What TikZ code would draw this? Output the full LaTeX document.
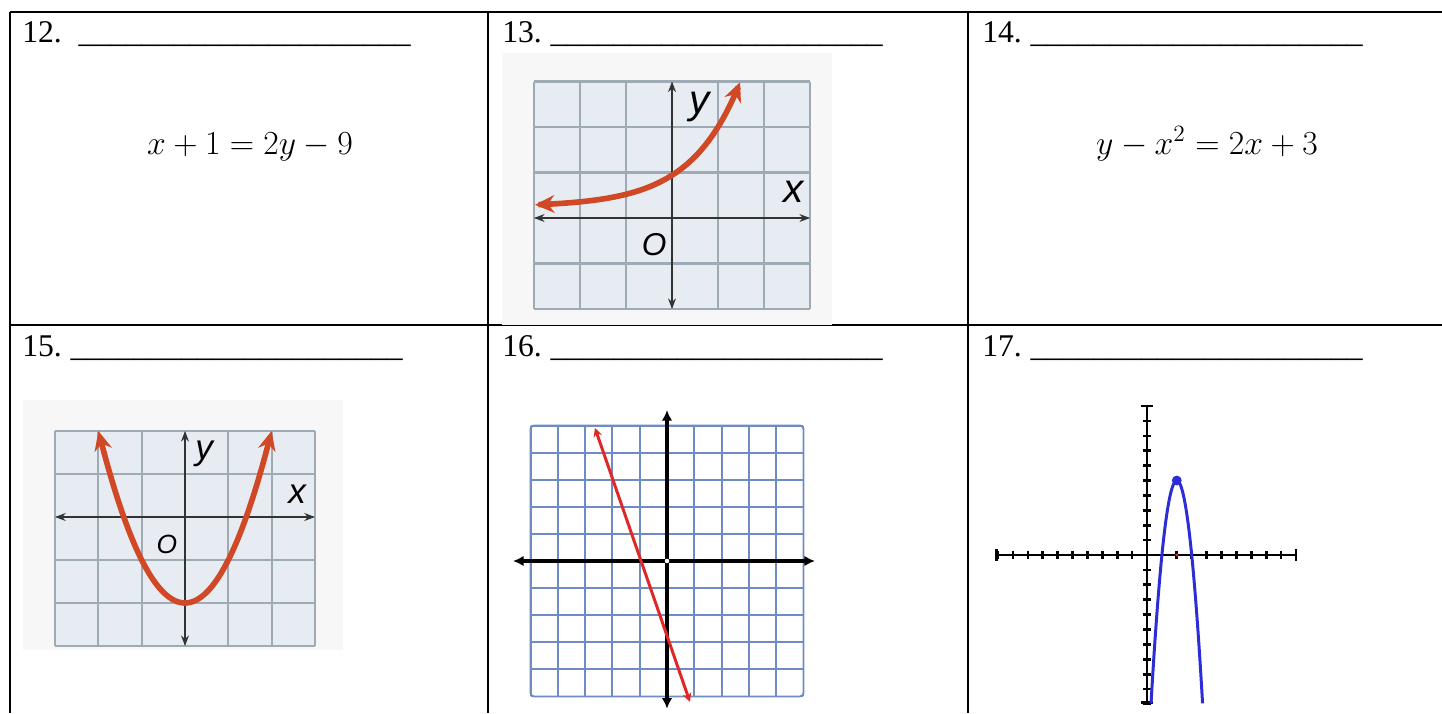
\documentclass[tikz,border=0pt]{standalone}
\usepackage[no-math]{fontspec}
\setmainfont{Liberation Serif}
\setsansfont{Liberation Sans}
\usetikzlibrary{arrows.meta,calc}

\definecolor{curvered}{RGB}{208,72,38}
\definecolor{cellfill}{RGB}{230,236,241}
\definecolor{cellline}{RGB}{158,170,180}
\definecolor{gridblue}{RGB}{110,140,195}
\definecolor{lineblue}{RGB}{45,45,215}
\definecolor{linered}{RGB}{225,40,40}

\newcommand{\blanks}{\_\_\_\_\_\_\_\_\_\_\_\_\_\_\_\_\_\_\_\_\_}

\begin{document}
\begin{tikzpicture}[x=0.02cm, y=-0.02cm,
    tabline/.style={line width=1.2pt},
    numlabel/.style={anchor=base west, inner sep=0pt, font=\fontsize{18}{20}\selectfont},
    eqn/.style={anchor=base, inner sep=0pt, scale=1.11, font=\fontsize{17.28}{21}\selectfont},
    axlabel/.style={inner sep=0pt, font=\sffamily\itshape\fontsize{#1}{#1}\selectfont},
    softaxis/.style={draw=black!80, line width=0.9pt, {Stealth[length=6pt,width=4.5pt]}-{Stealth[length=6pt,width=4.5pt]}},
    thickcurve/.style={draw=curvered, line width=3.2pt, {Stealth[length=11pt,width=10pt]}-{Stealth[length=11pt,width=10pt]}},
    tick/.style={line width=1.5pt}]
    \useasboundingbox (0,0) rectangle (1442,713);

    % Table rules
    \draw[tabline] (10,12) -- (1442,12);
    \draw[tabline] (10,325) -- (1442,325);
    \foreach \x in {10,488,968}
        \draw[tabline] (\x,12) -- (\x,713);

    % Question numbers with answer blanks
    \foreach \n/\x/\y/\gap in {12/22/43/9.6pt, 13/502/43/5pt, 14/982/43/5pt,
                               15/22/356/5pt, 16/502/356/5pt, 17/982/356/5pt}
        \node[numlabel] (lab\n) at (\x,\y) {\n.\hspace{\gap}\blanks};

    % Equations
    \node[eqn] (eq12) at (250,154) {$x+1=2y-9$};
    \node[eqn] (eq14) at (1207,154) {$y-x^2=2x+3$};

    % 13: exponential curve
    \fill[black!3] (502,53) rectangle (832,325);
    \begin{scope}[shift={(672,218)}, x=0.92cm, y=0.91cm]
        \fill[cellfill] (-3,-2) rectangle (3,3);
        \draw[cellline, line width=1.2pt, step=1] (-3,-2) grid (3,3);
        \draw[softaxis] (-3,0) -- (3,0);
        \draw[softaxis] (0,-2) -- (0,3);
        \draw[thickcurve] plot[domain=-2.98:1.48, samples=60, smooth] (\x,{0.247+0.693*pow(2.53,\x)});
        \node[axlabel=23] (ylab13) at (0.61,2.44) {y};
        \node[axlabel=23] (xlab13) at (2.65,0.57) {x};
        \node[axlabel=18] (olab13) at (-0.39,-0.59) {O};
    \end{scope}

    % 15: parabola opening up
    \fill[black!3] (23,400) rectangle (343,650);
    \begin{scope}[shift={(185,517)}, x=0.866cm, y=0.86cm]
        \fill[cellfill] (-3,-3) rectangle (3,2);
        \draw[cellline, line width=1.2pt, step=1] (-3,-3) grid (3,2);
        \draw[softaxis] (-3,0) -- (3,0);
        \draw[softaxis] (0,-3) -- (0,2);
        \draw[thickcurve] plot[domain=-2:2, samples=60, smooth] (\x,{\x*\x-2});
        \node[axlabel=20] (ylab15) at (0.44,1.47) {y};
        \node[axlabel=20] (xlab15) at (2.59,0.53) {x};
        \node[axlabel=15] (olab15) at (-0.42,-0.63) {O};
    \end{scope}

    % 16: line on blue grid
    \begin{scope}[shift={(667,561)}, x=0.546cm, y=0.542cm]
        \draw[gridblue, line width=1.1pt, step=1] (-5,-5) grid (5,5);
        \draw[gridblue, line width=1.1pt, rounded corners=2pt] (-5,-5) rectangle (5,5);
        \draw[line width=2pt, {Latex[length=6pt,width=6pt]}-{Latex[length=6pt,width=6pt]}] (-5.64,0) -- (5.42,0);
        \draw[line width=2pt, {Latex[length=6pt,width=6pt]}-{Latex[length=6pt,width=6pt]}] (0,-5.45) -- (0,5.57);
        \fill[white] (0,0) circle (1.3pt);
        \draw[linered, line width=1.7pt, {Stealth[length=5pt,width=5pt]}-{Stealth[length=5pt,width=5pt]}] (-2.64,4.91) -- (0.84,-5.2);
    \end{scope}

    % 17: parabola opening down
    \begin{scope}[shift={(1147,555)}, x=0.298cm, y=0.298cm]
        \draw[line width=1.4pt] (-10.1,0) -- (10,0);
        \draw[line width=1.4pt] (0,-9.9) -- (0,10);
        \foreach \t in {-10,...,-1,1,2,...,10} {
            \draw[tick] (\t,-0.25) -- (\t,0.25);
            \draw[tick] (-0.25,\t) -- (0.25,\t);
        }
        \draw[tick] (-10.1,-0.4) -- (-10.1,0.4);
        \draw[tick] (10,-0.4) -- (10,0.4);
        \draw[tick] (-0.4,10) -- (0.4,10);
        \draw[tick] (-0.4,-9.9) -- (0.4,-9.9);
        \draw[lineblue, line width=1.7pt] plot[domain=0.27:3.73, samples=80, smooth] (\x,{5-5*(\x-2)*(\x-2)});
        \fill[lineblue] (2,5) circle (2.8pt);
        \fill[linered] (2,0) circle (1pt);
    \end{scope}
\end{tikzpicture}
\end{document}
